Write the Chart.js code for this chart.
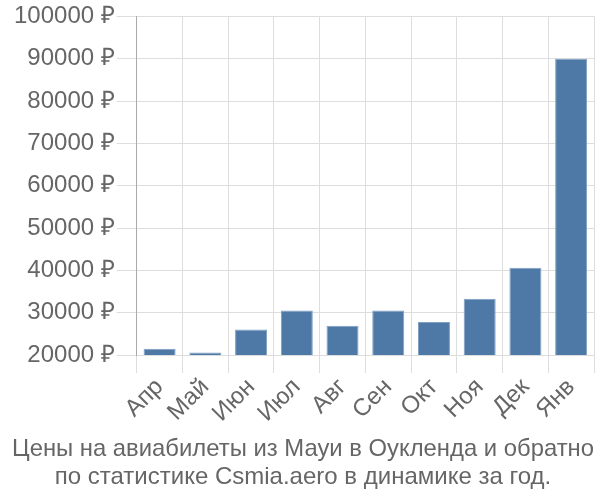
<!DOCTYPE html>
<html>
<head>
<meta charset="utf-8">
<script src="https://cdn.jsdelivr.net/npm/chart.js@4"></script>
<style>
  html, body { margin: 0; padding: 0; background: #fff; }
  #wrap { width: 600px; height: 500px; }
</style>
</head>
<body>
<div id="wrap"><canvas id="myChart" width="600" height="500"></canvas></div>
<script>
// months (categories)
const months = ['Апр', 'Май', 'Июн', 'Июл', 'Авг', 'Сен', 'Окт', 'Ноя', 'Дек', 'Янв'];
// prices, rub
const prices = [21500, 20600, 26000, 30500, 26900, 30500, 27800, 33300, 40600, 90000];
// y tick values
const yTicks = [20000, 30000, 40000, 50000, 60000, 70000, 80000, 90000, 100000];
const titleLines = ['Цены на авиабилеты из Мауи в Оукленда и обратно', 'по статистике Csmia.aero в динамике за год.'];

Chart.defaults.font.family = '"Liberation Sans", Arial, sans-serif';
Chart.defaults.color = '#666';

const ctx = document.getElementById('myChart').getContext('2d');
const myChart = new Chart(ctx, {
    type: 'bar',
    data: {
        labels: months,
        datasets: [{
            data: prices,
            backgroundColor: '#4e79a7',
            borderColor: '#7f9fc4',
            borderWidth: 1,
            categoryPercentage: 0.7,
            barPercentage: 1
        }]
    },
    options: {
        responsive: false,
        animation: false,
        layout: { padding: { top: 2, right: 6, left: 12, bottom: 0 } },
        plugins: {
            legend: { display: false },
            tooltip: { enabled: false },
            title: {
                display: true,
                position: 'bottom',
                text: titleLines,
                color: '#666',
                font: { size: 24, weight: 'normal', lineHeight: 1.17 },
                padding: { top: 7, bottom: 9 }
            }
        },
        scales: {
            x: {
                grid: { color: '#ddd', lineWidth: 1, tickLength: 18, offset: true },
                border: { color: '#ddd' },
                ticks: { font: { size: 24 }, color: '#666', maxRotation: 45, minRotation: 45, padding: 0 }
            },
            y: {
                min: 20000,
                max: 100000,
                afterBuildTicks: function(axis) {
                    axis.ticks = yTicks.map(v => ({ value: v }));
                },
                grid: { color: '#ddd', lineWidth: 1, tickLength: 20 },
                border: { color: '#aaa', width: 1 },
                ticks: {
                    font: { size: 24 },
                    color: '#666',
                    padding: 2,
                    callback: v => v + ' ₽'
                }
            }
        }
    }
});
</script>
</body>
</html>
